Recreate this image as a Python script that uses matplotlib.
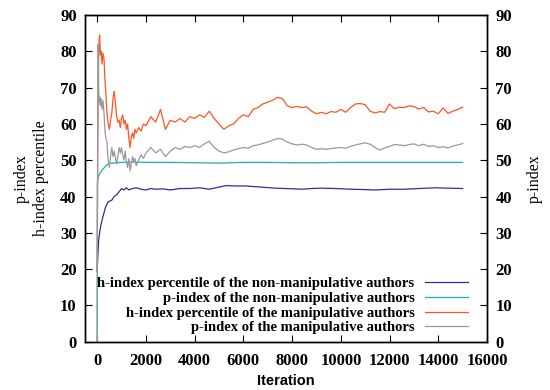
import matplotlib
matplotlib.use('Agg')
import matplotlib.pyplot as plt

# iteration grid shared by the two noisy "manipulative" series
iters = [0, 20, 40, 60, 80, 100, 130, 160, 200, 240, 280, 320, 360, 400, 450, 500,
         550, 600, 650, 700, 750, 800, 850, 900, 950, 1000, 1050, 1100, 1150, 1200,
         1250, 1300, 1350, 1400, 1450, 1500, 1550, 1600, 1700, 1800, 1900, 2000,
         2200, 2400, 2600, 2800, 3000, 3200, 3400, 3600, 3800, 4000, 4200, 4400,
         4600, 4800, 5000, 5200, 5400, 5600, 5800, 6000, 6200, 6400, 6600, 6800,
         7000, 7200, 7400, 7600, 7800, 8000, 8200, 8400, 8600, 8800, 9000, 9200,
         9400, 9600, 9800, 10000, 10200, 10400, 10600, 10800, 11000, 11200, 11400,
         11600, 11800, 12000, 12200, 12400, 12600, 12800, 13000, 13200, 13400,
         13600, 13800, 14000, 14200, 14400, 14600, 14800, 15000]

h_manip = [20, 48, 66, 78, 83, 84.5, 79, 80, 76.5, 79.5, 78, 72, 68, 63, 60, 58.5,
           61, 63, 67, 69, 65.5, 62, 60.5, 61, 59, 61.5, 62.5, 60, 61, 58.5,
           60, 56, 53.5, 56.5, 57.5, 56, 58.5, 57.5, 59, 58, 60, 59.5,
           62, 60.5, 64, 58.5, 61, 60.5, 61.5, 60.5, 62, 61.5, 62.5, 61.8,
           63.5, 61.5, 60, 58.5, 59.5, 60, 61.5, 62.5, 62, 64, 64.5, 65.5,
           66, 66.5, 67.3, 67, 65, 64.5, 64.8, 64.5, 64.7, 63.5, 62.8, 63.2,
           62.8, 63.4, 63.2, 64, 63.2, 64.5, 65.5, 65.6, 65.3, 63.5, 63,
           63.4, 63.2, 65.5, 64.2, 64.6, 64.5, 65, 64.8, 64.1, 64.5,
           63.3, 63.5, 62.8, 64.4, 62.9, 63.5, 64, 64.6]

p_manip = [0, 66, 82, 70, 66, 67.5, 65, 67, 64, 66.5, 63, 58, 56, 55, 50, 48,
           51, 53.5, 51, 52.5, 50.5, 49, 51, 53.5, 52, 53.5, 51.5, 50, 52.5, 49.5,
           48, 50.5, 47, 49, 51, 49.5, 50.5, 48.5, 50, 51.5, 50.5, 52,
           53.5, 52, 53, 51, 52.5, 53.5, 53, 53.8, 53.5, 54, 53.5, 54.5,
           55.2, 53.5, 52.5, 52, 52.3, 52.8, 53.2, 53.5, 53.3, 54, 54.2, 54.6,
           55, 55.5, 56, 55.8, 55, 54.5, 54.2, 54.4, 54.2, 53.5, 53, 53.2,
           53, 53.2, 53.4, 53.5, 53.3, 53.8, 54.2, 54.5, 54.8, 54.4, 53.5,
           52.8, 53.4, 53.8, 54.3, 54.2, 54, 54.3, 54.5, 54, 54.4,
           53.8, 54, 53.5, 53.7, 53.4, 53.9, 54.2, 54.6]

# non-manipulative authors (smooth series)
iters_h = [0, 30, 60, 100, 150, 200, 300, 350, 450, 600, 700, 800, 900, 1000, 1100,
           1200, 1300, 1450, 1600, 1800, 2000, 2200, 2400, 2700, 3000, 3400, 3800,
           4200, 4600, 5000, 5300, 5700, 6100, 6500, 6900, 7300, 7700, 8100, 8400,
           8800, 9200, 9800, 10400, 11000, 11400, 12000, 12600, 13200, 13900,
           14400, 15000]
h_nonmanip = [19.5, 24, 28, 30, 32, 33.5, 36, 37.2, 38.5, 39, 40, 40.5, 41.3, 42.2, 41.8,
              42.4, 41.8, 42.2, 42.4, 42, 41.8, 42.2, 42, 42.1, 41.8, 42.2, 42.2,
              42.4, 42, 42.6, 43, 42.9, 42.9, 42.7, 42.5, 42.3, 42.2, 42.1, 42,
              42.2, 42.3, 42.2, 42, 41.9, 41.8, 42, 42, 42.2, 42.4,
              42.3, 42.2]

iters_p = [0, 10, 50, 100, 200, 300, 400, 500, 700, 1000, 1500, 2000, 3000, 4000,
           5000, 6000, 7000, 8000, 9000, 10000, 11000, 12000, 13000, 14000, 15000]
p_nonmanip = [0, 44, 45.5, 46.3, 47.3, 48, 48.7, 49.1, 49.2, 49.4, 49.5, 49.4, 49.4, 49.3,
              49.2, 49.4, 49.4, 49.3, 49.3, 49.4, 49.4, 49.4, 49.4, 49.4, 49.4]

labels = ['h-index percentile of the non-manipulative authors',
          'p-index of the non-manipulative authors',
          'h-index percentile of the manipulative authors',
          'p-index of the manipulative authors']

serif = ['Liberation Serif', 'DejaVu Serif']
plt.rcParams['font.family'] = serif

fig = plt.figure(figsize=(5.5, 3.9), dpi=100)
ax = fig.add_axes([85 / 550, 1 - 341.7 / 390, 402 / 550, 326.7 / 390])

lw = 0.9
ax.plot(iters_h, h_nonmanip, color='#2b2f9c', lw=lw, label=labels[0])
ax.plot(iters_p, p_nonmanip, color='#19b3aa', lw=lw, label=labels[1])
ax.plot(iters, h_manip, color='#ff5522', lw=lw, label=labels[2])
ax.plot(iters, p_manip, color='#999999', lw=lw, label=labels[3])

ax.set_xlim(-500, 16000)
ax.set_ylim(0, 90)
ax.set_xticks(range(0, 16001, 2000))
ax.set_yticks(range(0, 91, 10))
ax.tick_params(direction='in', length=5, width=0.8, top=True, right=True,
               labelsize=12, pad=6)
ax.tick_params(axis='x', pad=8)
for t in ax.get_xticklabels() + ax.get_yticklabels():
    t.set_fontweight('bold')

ax2 = ax.twinx()
ax2.set_ylim(0, 90)
ax2.set_yticks(range(0, 91, 10))
ax2.tick_params(direction='in', length=5, width=0.8, labelsize=12, pad=6)
for t in ax2.get_yticklabels():
    t.set_fontweight('bold')

for a in (ax, ax2):
    for s in a.spines.values():
        s.set_linewidth(1.0)

ax.set_xlabel('Iteration', family=['Liberation Sans', 'DejaVu Sans'], fontsize=10.5,
              fontweight='bold', labelpad=4)
ax.set_ylabel('p-index\nh-index percentile', fontsize=11.5, labelpad=8, linespacing=1.3)
ax2.set_ylabel('p-index', fontsize=11.5, labelpad=11)

leg = ax.legend(loc='lower right', bbox_to_anchor=(0.972, 0.0), frameon=False,
                markerfirst=False, borderpad=0, handlelength=3.0, handletextpad=0.7,
                labelspacing=0.1, prop={'family': serif, 'weight': 'bold', 'size': 10.5})

fig.savefig('out.png', dpi=100)
